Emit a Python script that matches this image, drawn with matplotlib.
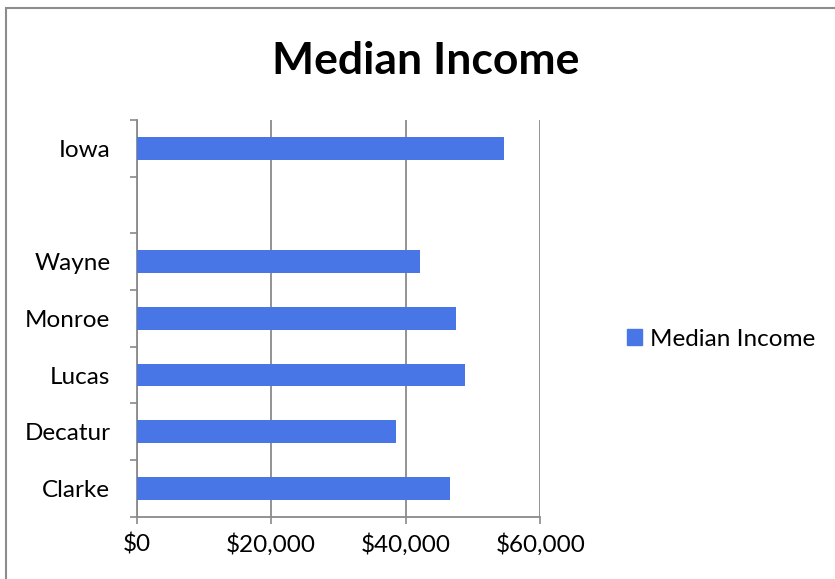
import numpy as np
import matplotlib
matplotlib.use("Agg")
import matplotlib.pyplot as plt
import matplotlib.ticker as ticker
from matplotlib.patches import Rectangle, Patch

# data (bottom to top, blank slot between Wayne and Iowa)
counties = ["Clarke", "Decatur", "Lucas", "Monroe", "Wayne", "", "Iowa"]
income = [46540, 38510, 48820, 47530, 42130, np.nan, 54620]
x_ticks = [0, 20000, 40000, 60000]
title = "Median Income"
series_name = "Median Income"

bar_color = "#4876E6"
grid_color = "#8a8a8a"
fs = 17.5

plt.rcParams["font.family"] = ["Lato", "DejaVu Sans"]

W, H = 835, 579
fig = plt.figure(figsize=(W / 100, H / 100), dpi=100)
ax = fig.add_axes([136.7 / W, 1 - 516.7 / H, (540.3 - 136.7) / W, (516.7 - 120) / H])

pos = np.arange(len(counties))
vals = np.array(income, dtype=float)
mask = ~np.isnan(vals)
ax.barh(pos[mask], vals[mask], height=0.4, color=bar_color, zorder=3)

ax.set_xlim(0, 60000)
ax.set_ylim(-0.5, len(counties) - 0.5)

# x axis
ax.set_xticks(x_ticks)
ax.xaxis.set_major_formatter(ticker.FuncFormatter(lambda v, p: "${:,.0f}".format(v)))
ax.tick_params(axis="x", direction="out", length=5, width=1.2, color=grid_color,
               labelsize=fs, pad=7)
ax.grid(axis="x", color=grid_color, linewidth=1.3, zorder=0)

# y axis: ticks at slot boundaries, labels at centers
ax.set_yticks(np.arange(-0.5, len(counties), 1.0))
ax.set_yticklabels([])
ax.set_yticks(pos, minor=True)
ax.set_yticklabels(counties, minor=True)
ax.tick_params(axis="y", which="major", direction="out", length=5, width=1.2, color=grid_color)
ax.tick_params(axis="y", which="minor", length=0, labelsize=fs, pad=19)

for s in ["top", "right"]:
    ax.spines[s].set_visible(False)
for s in ["left", "bottom"]:
    ax.spines[s].set_color(grid_color)
    ax.spines[s].set_linewidth(1.3)

fig.text(426 / W, 1 - 61 / H, title, ha="center", va="center",
         fontsize=32, fontweight="bold")

handle = Patch(facecolor=bar_color, edgecolor=bar_color)
fig.legend([handle], [series_name], loc="center left",
           bbox_to_anchor=(627 / W, 1 - 339 / H), frameon=False, fontsize=fs,
           borderpad=0, borderaxespad=0,
           handlelength=0.62, handleheight=0.62, handletextpad=0.33)

# outer chart frame
fig.add_artist(Rectangle((6 / W, -0.1), 1.2, 1 - 8 / H + 0.1, transform=fig.transFigure,
                         fill=False, edgecolor="#8c8c8c", linewidth=1.5))

fig.savefig("out.png", dpi=100, facecolor="white")
